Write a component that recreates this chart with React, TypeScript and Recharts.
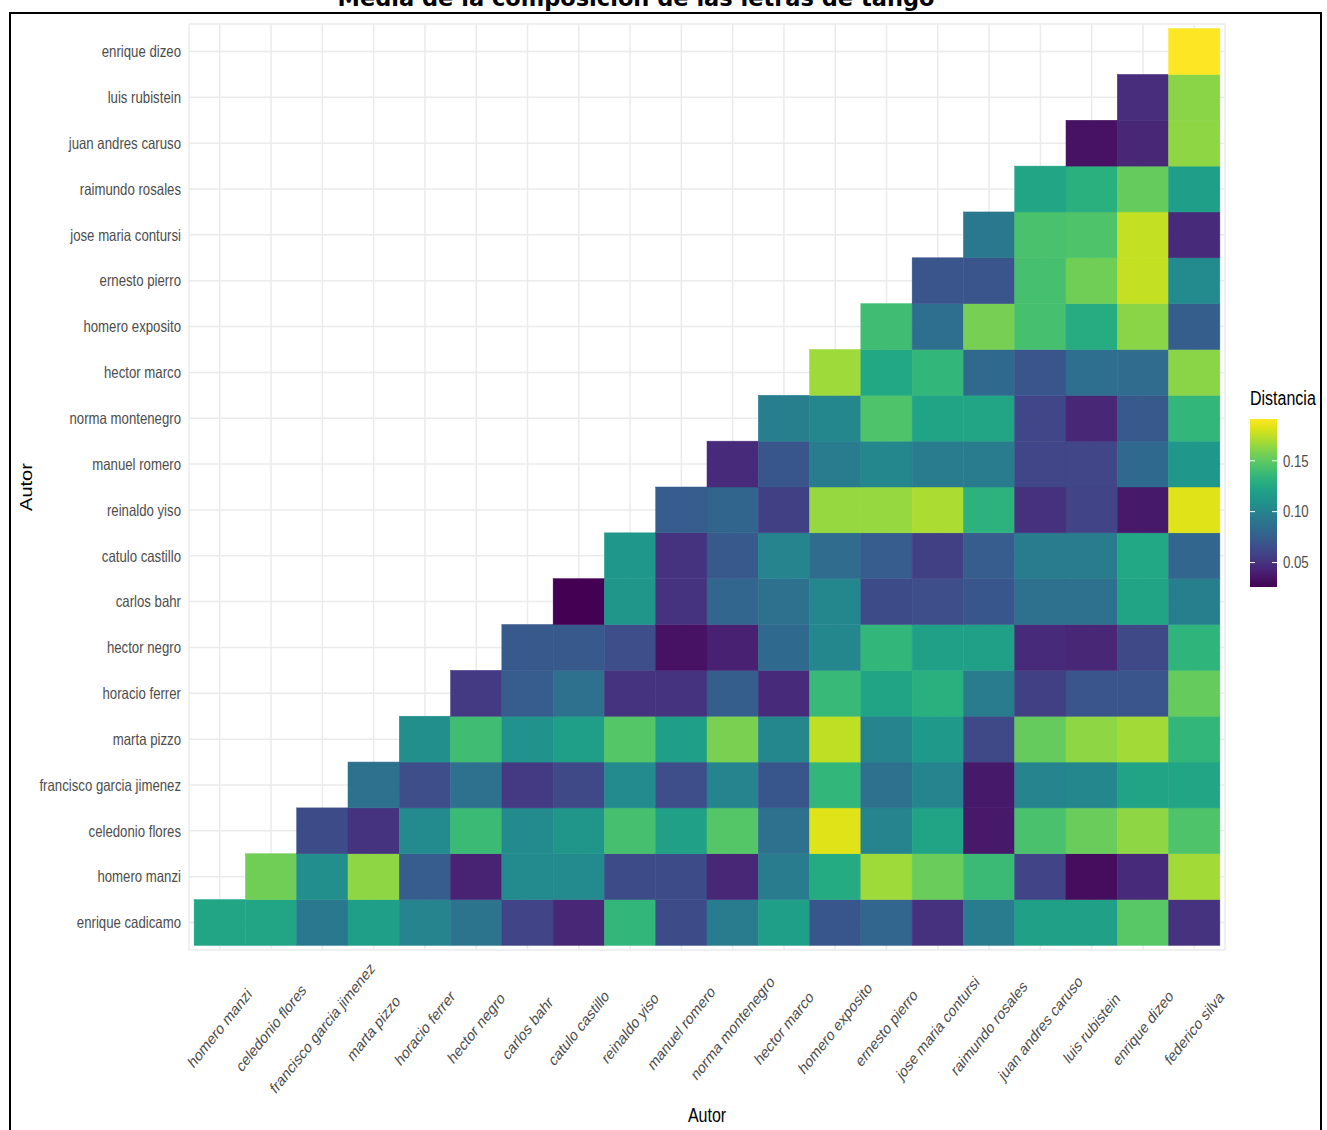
import { ScatterChart, Scatter, XAxis, YAxis, CartesianGrid } from 'recharts'

// authors on the y axis, bottom to top
const rowAuthors = [
  'enrique cadicamo',
  'homero manzi',
  'celedonio flores',
  'francisco garcia jimenez',
  'marta pizzo',
  'horacio ferrer',
  'hector negro',
  'carlos bahr',
  'catulo castillo',
  'reinaldo yiso',
  'manuel romero',
  'norma montenegro',
  'hector marco',
  'homero exposito',
  'ernesto pierro',
  'jose maria contursi',
  'raimundo rosales',
  'juan andres caruso',
  'luis rubistein',
  'enrique dizeo',
]

// authors on the x axis, left to right
const colAuthors = [
  'homero manzi',
  'celedonio flores',
  'francisco garcia jimenez',
  'marta pizzo',
  'horacio ferrer',
  'hector negro',
  'carlos bahr',
  'catulo castillo',
  'reinaldo yiso',
  'manuel romero',
  'norma montenegro',
  'hector marco',
  'homero exposito',
  'ernesto pierro',
  'jose maria contursi',
  'raimundo rosales',
  'juan andres caruso',
  'luis rubistein',
  'enrique dizeo',
  'federico silva',
]

// distance per row; row i starts at column i (lower triangle)
const distanceRows = [
  [0.123, 0.123, 0.092, 0.118, 0.100, 0.089, 0.059, 0.044, 0.135, 0.064, 0.095, 0.118, 0.070, 0.080, 0.049, 0.094, 0.120, 0.120, 0.148, 0.050],
  [0.155, 0.107, 0.163, 0.074, 0.042, 0.104, 0.104, 0.064, 0.064, 0.044, 0.094, 0.127, 0.167, 0.153, 0.138, 0.059, 0.031, 0.046, 0.168],
  [0.064, 0.050, 0.104, 0.138, 0.104, 0.112, 0.142, 0.120, 0.147, 0.087, 0.183, 0.100, 0.122, 0.037, 0.143, 0.153, 0.163, 0.145],
  [0.087, 0.065, 0.087, 0.054, 0.062, 0.104, 0.065, 0.100, 0.070, 0.135, 0.087, 0.100, 0.037, 0.100, 0.102, 0.122, 0.123],
  [0.107, 0.140, 0.109, 0.118, 0.147, 0.118, 0.158, 0.102, 0.175, 0.100, 0.115, 0.062, 0.152, 0.163, 0.168, 0.135],
  [0.054, 0.074, 0.087, 0.050, 0.050, 0.075, 0.046, 0.137, 0.122, 0.130, 0.094, 0.057, 0.069, 0.069, 0.152],
  [0.072, 0.072, 0.065, 0.034, 0.041, 0.082, 0.102, 0.135, 0.120, 0.120, 0.046, 0.044, 0.062, 0.133],
  [0.026, 0.112, 0.050, 0.080, 0.087, 0.102, 0.064, 0.065, 0.070, 0.087, 0.087, 0.122, 0.097],
  [0.113, 0.050, 0.072, 0.100, 0.084, 0.074, 0.057, 0.074, 0.094, 0.094, 0.125, 0.080],
  [0.074, 0.079, 0.057, 0.165, 0.165, 0.170, 0.132, 0.049, 0.059, 0.037, 0.183],
  [0.046, 0.070, 0.094, 0.102, 0.094, 0.094, 0.060, 0.060, 0.082, 0.113],
  [0.097, 0.102, 0.145, 0.122, 0.123, 0.060, 0.044, 0.072, 0.135],
  [0.167, 0.125, 0.135, 0.082, 0.069, 0.085, 0.084, 0.162],
  [0.140, 0.085, 0.157, 0.142, 0.128, 0.162, 0.075],
  [0.069, 0.069, 0.142, 0.155, 0.176, 0.104],
  [0.092, 0.143, 0.145, 0.176, 0.046],
  [0.123, 0.130, 0.152, 0.118],
  [0.034, 0.044, 0.163],
  [0.047, 0.162],
  [0.191],
]

const legendTicks = [0.05, 0.1, 0.15]

const W = 1327
const H = 1130
const PLOT_LEFT = 189
const PLOT_RIGHT = 1225
const PLOT_TOP = 24
const PLOT_BOTTOM = 950
const DOMAIN: [number, number] = [-0.1, 20.1]
const CELL_W = (PLOT_RIGHT - PLOT_LEFT) / (DOMAIN[1] - DOMAIN[0])
const CELL_H = (PLOT_BOTTOM - PLOT_TOP) / (DOMAIN[1] - DOMAIN[0])
const SQUASH = 0.8
const FONT = '"Liberation Sans", Arial, Helvetica, sans-serif'
const GREY = '#4d4d4d'

const VIRIDIS = [
  '#440154', '#471365', '#482475', '#463480', '#414487', '#3b528b', '#355f8d',
  '#2f6c8e', '#2a788e', '#25848e', '#21918c', '#1e9c89', '#22a884', '#2fb47c',
  '#44bf70', '#5ec962', '#7ad151', '#9bd93c', '#bddf26', '#dfe318', '#fde725',
]

function hexToRgb(h: string) {
  return [1, 3, 5].map((i) => parseInt(h.slice(i, i + 2), 16))
}

function viridis(t: number) {
  const c = Math.max(0, Math.min(1, t)) * (VIRIDIS.length - 1)
  const i = Math.min(Math.floor(c), VIRIDIS.length - 2)
  const f = c - i
  const a = hexToRgb(VIRIDIS[i])
  const b = hexToRgb(VIRIDIS[i + 1])
  const m = a.map((v, k) => Math.round(v + (b[k] - v) * f))
  return `rgb(${m[0]},${m[1]},${m[2]})`
}

const allValues = distanceRows.flat()
const vMin = Math.min(...allValues)
const vMax = Math.max(...allValues)

const cells = distanceRows.flatMap((row, r) =>
  row.map((v, k) => ({
    x: r + k + 0.5,
    y: r + 0.5,
    value: v,
    fill: viridis((v - vMin) / (vMax - vMin)),
  }))
)

const ticks = colAuthors.map((_, i) => i + 0.5)

function Tile(props: any) {
  const { cx, cy, payload } = props
  return (
    <rect
      x={cx - CELL_W / 2}
      y={cy - CELL_H / 2}
      width={CELL_W}
      height={CELL_H}
      fill={payload.fill}
      stroke={payload.fill}
      strokeWidth={0.5}
    />
  )
}

function XTick(props: any) {
  const { x, payload } = props
  const name = colAuthors[Math.floor(payload.value)]
  return (
    <text
      transform={`translate(${x},1028) scale(${SQUASH},1) rotate(-45)`}
      textAnchor="middle"
      dy="0.35em"
      fontSize={16.5}
      fontFamily={FONT}
      fill={GREY}
    >
      {name}
    </text>
  )
}

function YTick(props: any) {
  const { y, payload } = props
  const name = rowAuthors[Math.floor(payload.value)]
  return (
    <text
      transform={`translate(181,${y}) scale(${SQUASH},1)`}
      textAnchor="end"
      dy="0.35em"
      fontSize={16.5}
      fontFamily={FONT}
      fill={GREY}
    >
      {name}
    </text>
  )
}

// colour bar
const BAR_X = 1250
const BAR_W = 27
const BAR_TOP = 419
const BAR_BOTTOM = 587
const barY = (v: number) => BAR_BOTTOM - ((v - vMin) / (vMax - vMin)) * (BAR_BOTTOM - BAR_TOP)

function Overlay() {
  return (
    <svg
      width={W}
      height={H}
      style={{ position: 'absolute', left: 0, top: 0, pointerEvents: 'none' }}
    >
      <defs>
        <linearGradient id="viridisBar" x1="0" y1="1" x2="0" y2="0">
          {VIRIDIS.map((c, i) => (
            <stop key={i} offset={i / (VIRIDIS.length - 1)} stopColor={c} />
          ))}
        </linearGradient>
      </defs>
      <text
        x={636}
        y={6}
        textAnchor="middle"
        fontSize={22.5}
        fontWeight="bold"
        fontFamily='"DejaVu Sans", Verdana, sans-serif'
        fill="#000"
      >
        Media de la composición de las letras de tango
      </text>
      <rect x={10} y={13} width={1311} height={1130} fill="none" stroke="#000" strokeWidth={2} />
      <text
        transform={`translate(707,1122) scale(${SQUASH},1)`}
        textAnchor="middle"
        fontSize={20}
        fontFamily={FONT}
        fill="#000"
      >
        Autor
      </text>
      <text
        transform={`translate(32,487) scale(${SQUASH},1) rotate(-90)`}
        textAnchor="middle"
        fontSize={20}
        fontFamily={FONT}
        fill="#000"
      >
        Autor
      </text>
      <text
        transform={`translate(${BAR_X},405) scale(${SQUASH},1)`}
        fontSize={20}
        fontFamily={FONT}
        fill="#000"
      >
        Distancia
      </text>
      <rect x={BAR_X} y={BAR_TOP} width={BAR_W} height={BAR_BOTTOM - BAR_TOP} fill="url(#viridisBar)" />
      {legendTicks.map((t) => (
        <g key={t}>
          <line x1={BAR_X} x2={BAR_X + 5} y1={barY(t)} y2={barY(t)} stroke="#fff" strokeWidth={1} />
          <line x1={BAR_X + BAR_W - 5} x2={BAR_X + BAR_W} y1={barY(t)} y2={barY(t)} stroke="#fff" strokeWidth={1} />
          <text
            transform={`translate(1283,${barY(t)}) scale(${SQUASH},1)`}
            dy="0.35em"
            fontSize={16.5}
            fontFamily={FONT}
            fill={GREY}
          >
            {t.toFixed(2)}
          </text>
        </g>
      ))}
    </svg>
  )
}

export default function App() {
  return (
    <div style={{ position: 'absolute', left: 0, top: 0, width: W, height: H, background: '#fff' }}>
      <ScatterChart
        width={W}
        height={H}
        margin={{ top: PLOT_TOP, right: W - PLOT_RIGHT, bottom: 0, left: 0 }}
      >
        <CartesianGrid stroke="#ebebeb" strokeWidth={1.5} />
        <XAxis
          type="number"
          dataKey="x"
          domain={DOMAIN}
          ticks={ticks}
          interval={0}
          height={H - PLOT_BOTTOM}
          axisLine={false}
          tickLine={false}
          tick={<XTick />}
          allowDataOverflow
        />
        <YAxis
          type="number"
          dataKey="y"
          domain={DOMAIN}
          ticks={ticks}
          interval={0}
          width={PLOT_LEFT}
          axisLine={false}
          tickLine={false}
          tick={<YTick />}
          allowDataOverflow
        />
        <Scatter data={cells} shape={<Tile />} isAnimationActive={false} />
      </ScatterChart>
      <Overlay />
    </div>
  )
}
